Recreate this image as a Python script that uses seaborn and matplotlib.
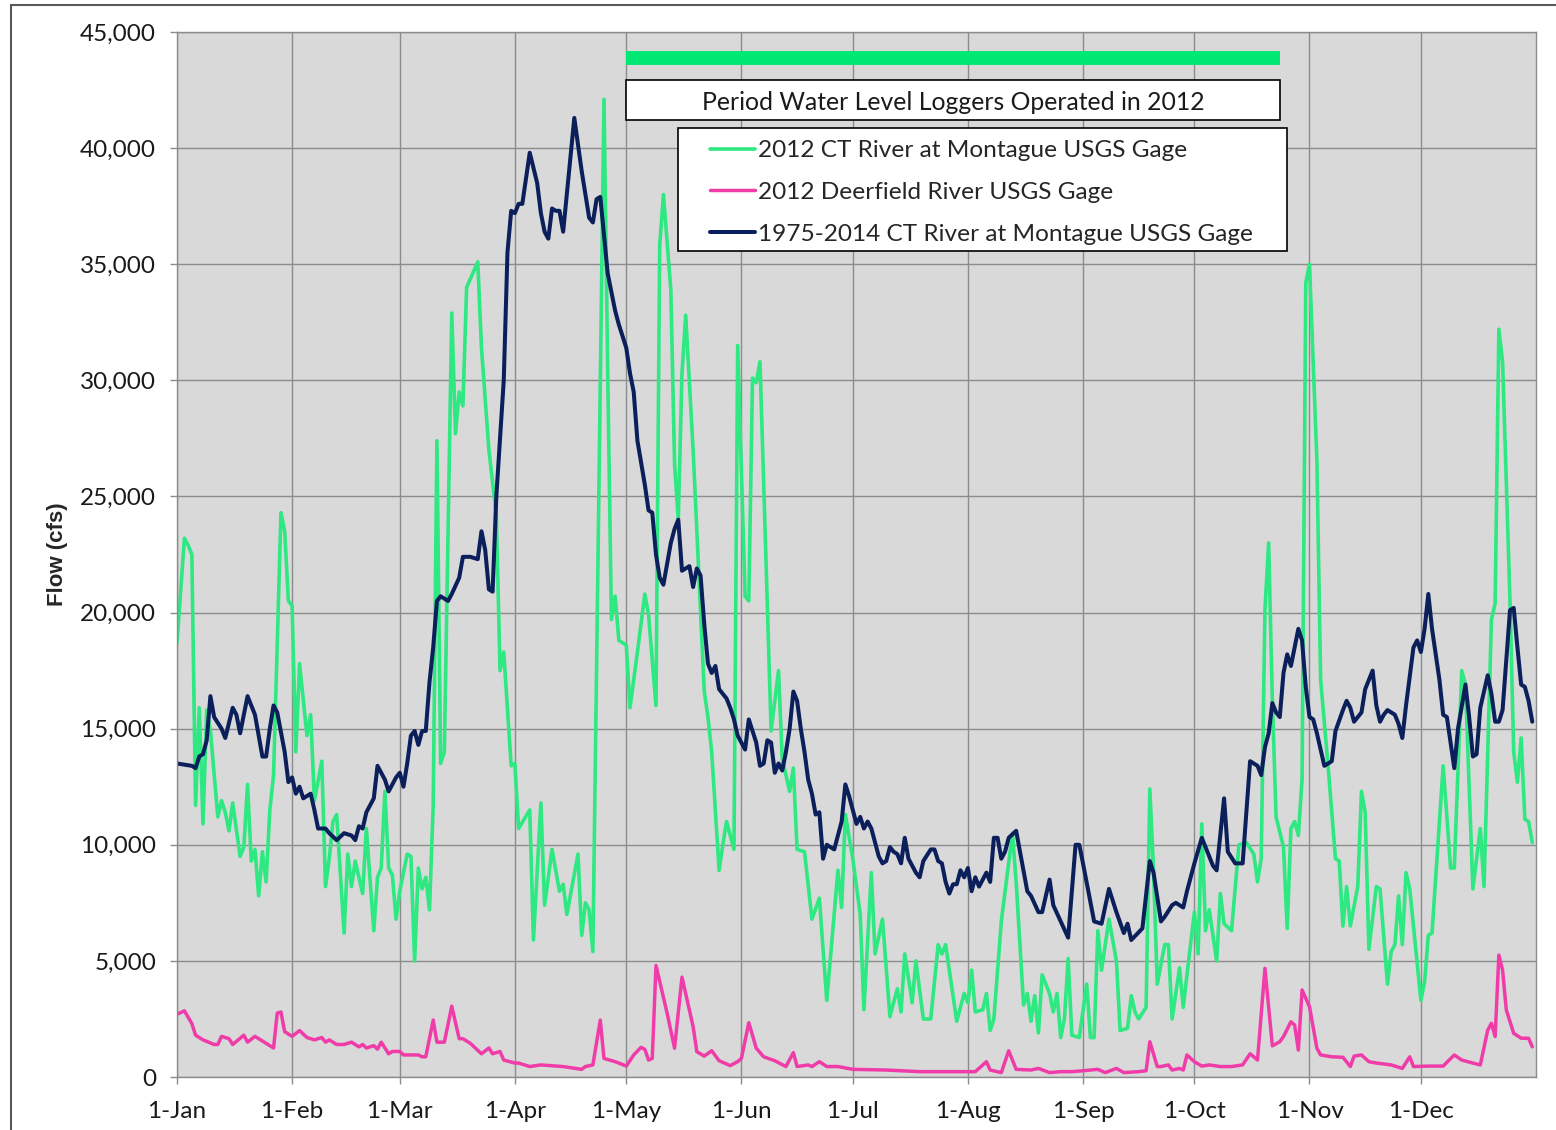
import pandas as pd
import seaborn as sns
import matplotlib.dates as mdates
from matplotlib import pyplot as plt
from matplotlib.patches import Rectangle
from matplotlib.ticker import FuncFormatter

# values, day index 0 = 1-Jan-2012, flows in 1000 cfs
ct_2012_days = [0, 2, 3, 4, 5, 6, 7, 8, 9, 11, 12, 13, 14, 15, 17, 18, 19, 20, 21, 22, 23, 24, 25, 26, 28, 29, 30,
                31, 32, 33, 35, 36, 37, 39, 40, 41, 42, 43, 45, 46, 47, 48, 50, 51, 53, 54, 55, 56, 57, 58, 59,
                60, 62, 63, 64, 65, 66, 67, 68, 69, 70, 71, 72, 74, 75, 76, 77, 78, 81, 82, 84, 86, 87, 88, 90,
                91, 92, 95, 96, 98, 99, 101, 103, 104, 105, 108, 109, 110, 111, 112, 115, 116, 117, 118, 119,
                121, 122, 124, 126, 127, 129, 130, 131, 133, 134, 135, 136, 137, 139, 142, 143, 144, 146, 147, 148, 150, 151,
                153, 154, 155, 156, 157, 158, 160, 162, 163, 165, 166, 167, 169, 171, 173, 175, 178, 179, 180,
                182, 184, 185, 187, 188, 190, 192, 194, 195, 196, 198, 199, 201, 203, 205, 206, 207, 210, 212,
                213, 214, 215, 217, 218, 219, 220, 222, 225, 226, 228, 229, 230, 231, 232, 233, 235, 236, 237, 238, 239, 240, 241, 243,
                245, 246, 247, 248, 249, 251, 253, 254, 256, 257, 258, 259, 261, 262, 263, 264, 266, 267, 268, 270, 271, 272,
                274, 275, 276, 277, 278, 280, 281, 282, 284, 286, 288, 290, 291, 292, 293, 294, 295, 296, 298, 299, 300, 301, 302, 303, 304,
                305, 307, 308, 310, 312, 313, 314, 315, 316, 318, 319, 320, 321, 323, 324, 326, 327, 328, 329, 330, 331, 332,
                335, 336, 337, 338, 341, 343, 344, 346, 347, 349, 351, 352, 354, 355, 356, 357, 359, 360, 361, 362, 363, 364, 365]
ct_2012_kcfs = [18.7, 23.2, 22.9, 22.5, 11.7, 15.9, 10.9, 15.8, 14.9, 11.2, 11.9, 11.4, 10.6, 11.8, 9.5, 9.9, 12.6, 9.3, 9.8, 7.8, 9.7, 8.4, 11.5, 13.0, 24.3, 23.5, 20.5,
                20.3, 14.0, 17.8, 14.7, 15.6, 11.9, 13.6, 8.2, 9.4, 11.0, 11.3, 6.2, 9.6, 8.2, 9.3, 7.9, 10.7, 6.3, 8.6, 9.0, 12.3, 9.0, 8.7, 6.8,
                8.0, 9.6, 9.5, 5.0, 9.0, 8.1, 8.6, 7.2, 11.7, 27.4, 13.5, 14.0, 32.9, 27.7, 29.5, 28.9, 34.0, 35.1, 31.4, 27.0, 24.2, 17.5, 18.3, 13.4,
                13.5, 10.7, 11.5, 5.9, 11.8, 7.4, 9.8, 8.0, 8.3, 7.0, 9.6, 6.1, 7.5, 7.2, 5.4, 42.1, 30.3, 19.7, 20.7, 18.8,
                18.6, 15.9, 18.3, 20.8, 19.9, 16.0, 35.8, 38.0, 33.9, 26.4, 24.0, 30.3, 32.8, 27.0, 16.6, 15.5, 14.0, 8.9, 10.0, 11.0, 9.8, 31.5,
                20.7, 20.5, 30.1, 29.9, 30.8, 25.6, 14.9, 17.5, 13.7, 12.3, 13.3, 9.8, 9.7, 6.8, 7.7, 3.3, 8.9, 7.3, 11.3,
                9.4, 7.0, 2.9, 8.8, 5.3, 6.8, 2.6, 3.8, 2.8, 5.3, 3.2, 5.0, 2.5, 2.5, 5.7, 5.3, 5.7, 2.4, 3.6,
                3.2, 4.6, 2.8, 2.9, 3.6, 2.0, 2.5, 6.7, 10.5, 8.4, 3.1, 3.6, 2.4, 3.5, 1.9, 4.4, 3.6, 2.8, 3.6, 1.7, 2.5, 5.1, 1.8, 1.7,
                4.0, 1.7, 1.7, 6.3, 4.6, 6.8, 5.0, 2.0, 2.1, 3.5, 2.8, 2.5, 3.0, 12.4, 8.9, 4.0, 5.7, 5.7, 2.5, 4.7, 3.0, 4.4,
                7.1, 5.3, 10.9, 6.3, 7.2, 5.0, 7.9, 6.6, 6.3, 10.0, 10.1, 9.6, 8.4, 9.4, 20.1, 23.0, 16.2, 11.2, 9.9, 6.4, 10.7, 11.0, 10.4, 12.8, 34.2,
                35.0, 26.5, 17.1, 13.4, 9.4, 9.3, 6.5, 8.2, 6.5, 8.2, 12.3, 11.4, 5.5, 8.2, 8.1, 4.0, 5.4, 5.7, 7.8, 5.7, 8.8, 8.1,
                3.3, 4.1, 6.1, 6.2, 13.4, 9.0, 9.0, 17.5, 16.9, 8.1, 10.7, 8.2, 19.7, 20.4, 32.2, 30.8, 20.5, 14.0, 12.7, 14.6, 11.1, 11.0, 10.1]

deerfield_days = [0, 2, 4, 5, 7, 10, 11, 12, 14, 15, 18, 19, 21, 22, 24, 26, 27, 28, 29,
                  31, 33, 35, 37, 39, 40, 41, 43, 45, 47, 49, 50, 51, 53, 54, 55, 57, 58,
                  60, 61, 65, 66, 67, 69, 70, 72, 74, 76, 77, 79, 82, 84, 85, 87, 88,
                  91, 92, 95, 98, 104, 109, 110, 112, 114, 115, 118, 119,
                  121, 123, 125, 126, 127, 128, 129, 132, 134, 136, 139, 140, 142, 144, 146, 149, 151,
                  152, 154, 156, 158, 161, 164, 166, 167, 170, 171, 173, 175, 178,
                  182, 191, 200, 209,
                  215, 218, 219, 222, 224, 226, 230, 232, 235, 238, 241,
                  244, 248, 250, 253, 255, 259, 261, 262, 264, 265, 267, 268, 270, 271, 272,
                  274, 276, 278, 281, 284, 287, 289, 290, 291, 293, 295, 297, 298, 300, 301, 302, 303,
                  305, 307, 308, 311, 314, 316, 317, 319, 321, 323, 327, 330, 332, 333,
                  337, 341, 344, 346, 349, 351, 353, 354, 355, 356, 357, 358, 360, 362, 364, 365]
deerfield_kcfs = [2.7, 2.85, 2.3, 1.8, 1.6, 1.4, 1.4, 1.75, 1.65, 1.4, 1.8, 1.5, 1.75, 1.65, 1.45, 1.25, 2.75, 2.8, 1.95,
                  1.75, 2.0, 1.7, 1.6, 1.7, 1.5, 1.6, 1.4, 1.4, 1.5, 1.3, 1.4, 1.25, 1.35, 1.2, 1.5, 1.0, 1.1,
                  1.1, 0.95, 0.95, 0.87, 0.87, 2.45, 1.5, 1.5, 3.05, 1.65, 1.65, 1.45, 1.0, 1.25, 1.0, 1.1, 0.73,
                  0.6, 0.6, 0.45, 0.52, 0.45, 0.33, 0.45, 0.52, 2.45, 0.8, 0.66, 0.6,
                  0.47, 0.95, 1.28, 1.19, 0.73, 0.8, 4.8, 2.75, 1.24, 4.3, 2.17, 1.09, 0.9, 1.13, 0.7, 0.49, 0.66,
                  0.8, 2.34, 1.24, 0.87, 0.7, 0.45, 1.05, 0.45, 0.52, 0.45, 0.66, 0.45, 0.45,
                  0.33, 0.3, 0.23, 0.23,
                  0.23, 0.66, 0.3, 0.19, 1.13, 0.33, 0.3, 0.37, 0.19, 0.23, 0.23,
                  0.27, 0.33, 0.19, 0.37, 0.19, 0.23, 0.27, 1.52, 0.45, 0.45, 0.52, 0.3, 0.37, 0.3, 0.95,
                  0.66, 0.47, 0.52, 0.45, 0.45, 0.52, 1.0, 0.87, 0.73, 4.68, 1.34, 1.52, 1.74, 2.38, 2.24, 1.16, 3.75,
                  3.03, 1.24, 0.95, 0.87, 0.85, 0.45, 0.9, 0.95, 0.66, 0.6, 0.52, 0.37, 0.87, 0.45,
                  0.47, 0.47, 0.95, 0.73, 0.6, 0.52, 2.02, 2.31, 1.74, 5.25, 4.61, 2.89, 1.88, 1.67, 1.67, 1.3]

ct_longterm_days = [0, 4, 5, 6, 7, 8, 9, 10, 12, 13, 15, 16, 17, 19, 21, 23, 24, 25, 26, 27, 29, 30,
                    31, 32, 33, 34, 36, 37, 38, 40, 41, 43, 45, 47, 48, 49, 50, 51, 53, 54, 56, 57, 59,
                    60, 61, 62, 63, 64, 65, 66, 67, 68, 69, 70, 71, 73, 74, 76, 77, 79, 81, 82, 83, 84, 85, 86, 88, 89, 90,
                    91, 92, 93, 95, 97, 98, 99, 100, 101, 102, 103, 104, 107, 109, 111, 112, 113, 114, 116, 118, 119,
                    121, 122, 123, 124, 126, 127, 128, 129, 130, 131, 133, 134, 135, 136, 138, 139, 140, 141, 142, 143, 144, 145, 146, 148, 149, 150, 151,
                    153, 154, 155, 156, 157, 158, 159, 160, 161, 162, 163, 164, 165, 166, 167, 168, 169, 170, 171, 172, 173, 174, 175, 176, 177, 179, 180, 181,
                    182, 183, 184, 185, 186, 187, 189, 190, 191, 192, 193, 194, 195, 196, 197, 199, 200, 201, 203, 204, 205, 206, 207, 208, 209, 210, 211, 212,
                    213, 214, 215, 216, 218, 219, 220, 221, 222, 223, 224, 226, 229, 230, 232, 233, 235, 236, 240, 242, 243,
                    244, 247, 249, 251, 253, 255, 256, 257, 260, 262, 263, 265, 266, 268, 269, 271, 272,
                    274, 276, 279, 280, 282, 283, 285, 287, 289, 291, 292, 293, 294, 295, 296, 297, 298, 299, 300, 302, 303, 304,
                    305, 306, 307, 308, 309, 310, 311, 312, 314, 315, 316, 317, 319, 320, 322, 323, 324, 325, 326, 328, 329, 330, 331, 333, 334,
                    335, 336, 337, 338, 340, 341, 342, 343, 344, 345, 347, 348, 349, 350, 351, 353, 354, 355, 356, 357, 359, 360, 361, 362, 363, 364, 365]
ct_longterm_kcfs = [13.5, 13.4, 13.3, 13.8, 13.9, 14.5, 16.4, 15.5, 15.0, 14.6, 15.9, 15.6, 14.8, 16.4, 15.6, 13.8, 13.8, 15.0, 16.0, 15.7, 14.0, 12.7,
                    12.9, 12.2, 12.5, 12.0, 12.2, 11.5, 10.7, 10.7, 10.5, 10.2, 10.5, 10.4, 10.2, 10.8, 10.7, 11.4, 12.0, 13.4, 12.8, 12.3, 12.9,
                    13.1, 12.5, 13.5, 14.7, 14.9, 14.3, 14.9, 14.9, 17.0, 18.5, 20.5, 20.7, 20.5, 20.8, 21.5, 22.4, 22.4, 22.3, 23.5, 22.7, 21.0, 20.9, 25.0, 30.0, 35.5, 37.3,
                    37.2, 37.6, 37.6, 39.8, 38.5, 37.2, 36.4, 36.1, 37.4, 37.3, 37.3, 36.4, 41.3, 39.0, 37.0, 36.8, 37.8, 37.9, 34.6, 33.0, 32.4,
                    31.4, 30.3, 29.5, 27.4, 25.5, 24.4, 24.3, 22.5, 21.5, 21.2, 23.0, 23.6, 24.0, 21.8, 22.0, 21.1, 21.9, 21.6, 19.5, 17.8, 17.4, 17.7, 16.7, 16.3, 15.9, 15.4, 14.7,
                    14.1, 15.4, 14.9, 14.4, 13.4, 13.5, 14.5, 14.4, 13.1, 13.5, 13.2, 14.0, 15.0, 16.6, 16.2, 15.0, 14.0, 12.8, 12.2, 11.3, 11.4, 9.4, 10.0, 9.9, 9.8, 11.0, 12.6, 12.1,
                    11.5, 10.9, 11.2, 10.7, 11.0, 10.7, 9.5, 9.2, 9.3, 9.9, 9.7, 9.6, 9.2, 10.3, 9.4, 8.8, 8.6, 9.3, 9.8, 9.8, 9.3, 9.2, 8.4, 7.9, 8.3, 8.3, 8.9, 8.6,
                    9.0, 8.0, 8.6, 8.2, 8.8, 8.4, 10.3, 10.3, 9.4, 9.7, 10.3, 10.6, 8.0, 7.8, 7.1, 7.1, 8.5, 7.4, 6.0, 10.0, 10.0,
                    9.2, 6.7, 6.6, 8.1, 7.1, 6.2, 6.6, 5.9, 6.4, 9.3, 8.8, 6.7, 6.9, 7.4, 7.5, 7.3, 8.0,
                    9.2, 10.3, 9.1, 8.9, 12.0, 9.7, 9.2, 9.2, 13.6, 13.4, 13.0, 14.2, 14.8, 16.1, 15.7, 15.5, 17.4, 18.2, 17.7, 19.3, 18.8, 16.8,
                    15.5, 15.4, 14.8, 14.1, 13.4, 13.5, 13.6, 14.9, 15.8, 16.2, 15.9, 15.3, 15.7, 16.7, 17.5, 16.0, 15.3, 15.6, 15.8, 15.6, 15.2, 14.6, 16.0, 18.5, 18.8,
                    18.3, 19.3, 20.8, 19.3, 17.1, 15.6, 15.5, 14.4, 13.3, 15.0, 16.9, 15.5, 13.8, 13.9, 15.9, 17.3, 16.5, 15.3, 15.3, 15.8, 20.1, 20.2, 18.5, 16.9, 16.8, 16.2, 15.3]

series_labels = ["2012 CT River at Montague USGS Gage",
                 "2012 Deerfield River USGS Gage",
                 "1975-2014 CT River at Montague USGS Gage"]
series_colors = ["#2ee882", "#f03ca8", "#0b1f5b"]
series_widths = [2.6, 2.5, 2.9]

logger_period = ["2012-05-01", "2012-10-24"]
logger_level = 43900
logger_text = "Period Water Level Loggers Operated in 2012"

month_labels = ["1-Jan", "1-Feb", "1-Mar", "1-Apr", "1-May", "1-Jun",
                "1-Jul", "1-Aug", "1-Sep", "1-Oct", "1-Nov", "1-Dec"]

start = pd.Timestamp("2012-01-01")


def to_frame(days, kcfs):
    return pd.DataFrame({"date": start + pd.to_timedelta(days, unit="D"),
                         "flow": [v * 1000 for v in kcfs]})


sns.set_style("whitegrid")
plt.rcParams["font.family"] = ["Lato", "DejaVu Sans"]

fig = plt.figure(figsize=(15.56, 11.3), dpi=100)
ax = fig.add_axes([0.11375, 0.0469, 0.87339, 0.92478])
ax.set_facecolor("#d9d9d9")

frames = [to_frame(ct_2012_days, ct_2012_kcfs),
          to_frame(deerfield_days, deerfield_kcfs),
          to_frame(ct_longterm_days, ct_longterm_kcfs)]
for df, label, color, lw in zip(frames, series_labels, series_colors, series_widths):
    sns.lineplot(data=df, x="date", y="flow", color=color, lw=lw,
                 estimator=None, label=label, ax=ax)

# logger operating period bar and caption box
p0, p1 = pd.Timestamp(logger_period[0]), pd.Timestamp(logger_period[1])
ax.plot([p0, p1], [logger_level, logger_level], color="#00e874", lw=10,
        solid_capstyle="butt", zorder=4)
ax.add_patch(Rectangle((mdates.date2num(p0), 41200),
                       mdates.date2num(p1) - mdates.date2num(p0), 1750,
                       facecolor="white", edgecolor="black", lw=1.2, zorder=4))
ax.text(p0 + (p1 - p0) / 2, 41950, logger_text, ha="center", va="center",
        fontsize=17.8, color="#1a1a1a", zorder=5)

ax.set_xlim(start, pd.Timestamp("2013-01-01"))
ax.set_ylim(0, 45000)
ax.set_xticks(pd.date_range(start, periods=12, freq="MS"))
ax.set_xticklabels(month_labels)
ax.set_yticks(range(0, 45001, 5000))
ax.yaxis.set_major_formatter(FuncFormatter(lambda v, p: f"{int(v):,}"))
ax.tick_params(axis="both", which="major", labelsize=17.5, labelcolor="#1a1a1a",
               bottom=True, left=True, length=5, width=1, color="#8c8c8c",
               direction="out")
ax.tick_params(axis="x", pad=12)
ax.tick_params(axis="y", pad=10)
ax.grid(True, color="#8c8c8c", lw=1)
for side in ["left", "right", "top", "bottom"]:
    ax.spines[side].set_color("#8c8c8c")
    ax.spines[side].set_linewidth(1)

ax.set_xlabel("")
ax.set_ylabel("Flow (cfs)", fontsize=16, fontweight="bold", labelpad=9,
              family=["Liberation Sans", "DejaVu Sans"])

# legend box drawn separately so its frame sits where the original one is
ax.add_patch(Rectangle((0.3687, 0.7904), 0.4481, 0.1177, transform=ax.transAxes,
                       facecolor="white", edgecolor="black", lw=1.2, zorder=4))
leg = ax.legend(loc="upper left", bbox_to_anchor=(0.3922, 0.8965), frameon=False,
                borderpad=0, borderaxespad=0, fontsize=17.6, handlelength=1.85,
                handletextpad=0.12, labelspacing=0.84)
leg.set_zorder(6)

fig.patches.append(Rectangle((0.00707, -0.01), 1.0, 1.00558, transform=fig.transFigure,
                             fill=False, edgecolor="#595959", lw=1.5))

fig.savefig("out.png", dpi=100)
